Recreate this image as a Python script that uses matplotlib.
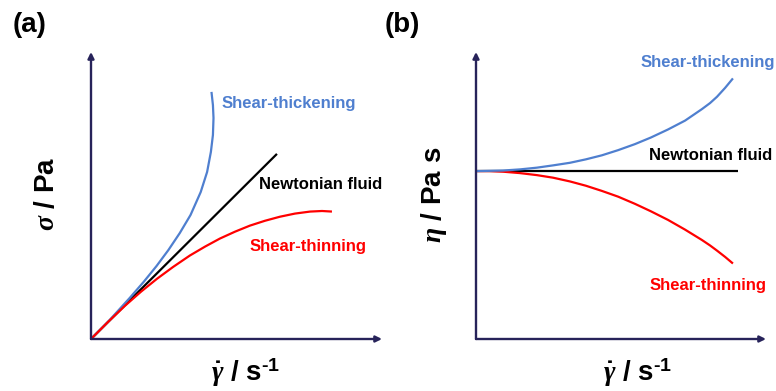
import matplotlib
matplotlib.use('Agg')
import matplotlib.pyplot as plt

# ---- data (arbitrary units, axes run 0..10) ----
# (a) flow curves: shear stress vs shear rate
a_thick_x = [0, 0.64, 1.33, 1.81, 2.25, 2.66, 3.05, 3.42, 3.77, 3.99, 4.12, 4.19, 4.21, 4.19, 4.14]
a_thick_y = [0, 0.66, 1.43, 1.99, 2.54, 3.10, 3.69, 4.32, 5.12, 5.82, 6.52, 7.11, 7.70, 8.15, 8.61]
a_newt_x = [0, 6.39]
a_newt_y = [0, 6.45]
a_thin_x = [0, 0.58, 1.17, 1.72, 2.27, 2.82, 3.40, 3.92, 4.43, 4.95, 5.46, 5.98, 6.49,
            7.01, 7.53, 7.94, 8.28]
a_thin_y = [0, 0.59, 1.16, 1.65, 2.10, 2.51, 2.91, 3.22, 3.50, 3.74, 3.95, 4.12, 4.26,
            4.37, 4.44, 4.46, 4.44]

# (b) viscosity curves: viscosity vs shear rate
b_rate = [0, 0.48, 0.93, 1.52, 2.10, 2.66, 3.24, 3.79, 4.34, 4.90, 5.48, 6.03, 6.62,
          7.21, 7.79, 8.07, 8.31, 8.59, 8.86]
b_thick_y = [5.85, 5.86, 5.87, 5.91, 5.97, 6.05, 6.14, 6.26, 6.40, 6.58, 6.79, 7.02, 7.30,
             7.61, 8.01, 8.22, 8.44, 8.75, 9.08]
b_thin_y = [5.85, 5.85, 5.83, 5.78, 5.71, 5.62, 5.49, 5.34, 5.16, 4.96, 4.71, 4.45, 4.15,
            3.81, 3.45, 3.26, 3.08, 2.86, 2.63]
b_newt_x = [0, 9.03]
b_newt_y = [5.85, 5.85]

labels = ['Shear-thickening', 'Newtonian fluid', 'Shear-thinning']

BLUE = '#4f7fcf'
RED = '#ff0000'
BLACK = '#000000'
NAVY = '#27235a'

plt.rcParams['font.family'] = ['Liberation Sans', 'DejaVu Sans']
plt.rcParams['mathtext.fontset'] = 'custom'
plt.rcParams['mathtext.it'] = 'Liberation Serif:italic:bold'
plt.rcParams['mathtext.rm'] = 'Liberation Sans:bold'
plt.rcParams['mathtext.bf'] = 'Liberation Sans:bold'

fig = plt.figure(figsize=(7.76, 3.91), dpi=100)
ax1 = fig.add_axes([91 / 776, 52 / 391, 291 / 776, 287 / 391])
ax2 = fig.add_axes([476 / 776, 52 / 391, 290 / 776, 287 / 391])


def arrow_axes(ax):
    ax.set_xlim(0, 10)
    ax.set_ylim(0, 10)
    ax.axis('off')
    aprops = dict(arrowstyle='-|>', mutation_scale=9, lw=1.7, color=NAVY,
                  shrinkA=0, shrinkB=0)
    ax.annotate('', xy=(1, 0), xytext=(0, 0), xycoords='axes fraction',
                textcoords='axes fraction', arrowprops=aprops)
    ax.annotate('', xy=(0, 1), xytext=(0, 0), xycoords='axes fraction',
                textcoords='axes fraction', arrowprops=aprops)


arrow_axes(ax1)
ax1.plot(a_newt_x, a_newt_y, color=BLACK, lw=1.6, solid_capstyle='butt')
ax1.plot(a_thick_x, a_thick_y, color=BLUE, lw=1.6, solid_capstyle='butt', solid_joinstyle='round')
ax1.plot(a_thin_x, a_thin_y, color=RED, lw=1.6, solid_capstyle='butt', solid_joinstyle='round')
ax1.text(4.47, 8.22, labels[0], color=BLUE, fontsize=12, fontweight='bold', va='center')
ax1.text(5.77, 5.40, labels[1], color=BLACK, fontsize=12, fontweight='bold', va='center')
ax1.text(5.46, 3.21, labels[2], color=RED, fontsize=12, fontweight='bold', va='center')

arrow_axes(ax2)
ax2.plot(b_newt_x, b_newt_y, color=BLACK, lw=1.6, solid_capstyle='butt')
ax2.plot(b_rate, b_thin_y, color=RED, lw=1.6, solid_capstyle='butt', solid_joinstyle='round')
ax2.plot(b_rate, b_thick_y, color=BLUE, lw=1.6, solid_capstyle='butt', solid_joinstyle='round')
ax2.text(5.66, 9.65, labels[0], color=BLUE, fontsize=12, fontweight='bold', va='center')
ax2.text(5.97, 6.41, labels[1], color=BLACK, fontsize=12, fontweight='bold', va='center')
ax2.text(5.97, 1.88, labels[2], color=RED, fontsize=12, fontweight='bold', va='center')

# axis titles and panel letters
fig.text(0.060, 0.504, r'$\sigma$ / Pa', rotation=90, fontsize=20, fontweight='bold',
         ha='center', va='center')
fig.text(0.559, 0.501, r'$\eta$ / Pa s', rotation=90, fontsize=20, fontweight='bold',
         ha='center', va='center')
fig.text(0.316, 0.046, r'$\dot{\gamma}$ / s$^{\text{-1}}$', fontsize=20, fontweight='bold',
         ha='center', va='center')
fig.text(0.821, 0.046, r'$\dot{\gamma}$ / s$^{\text{-1}}$', fontsize=20, fontweight='bold',
         ha='center', va='center')
fig.text(0.016, 0.936, '(a)', fontsize=20, fontweight='bold', ha='left', va='center')
fig.text(0.496, 0.936, '(b)', fontsize=20, fontweight='bold', ha='left', va='center')

fig.savefig('out.png', dpi=100)
